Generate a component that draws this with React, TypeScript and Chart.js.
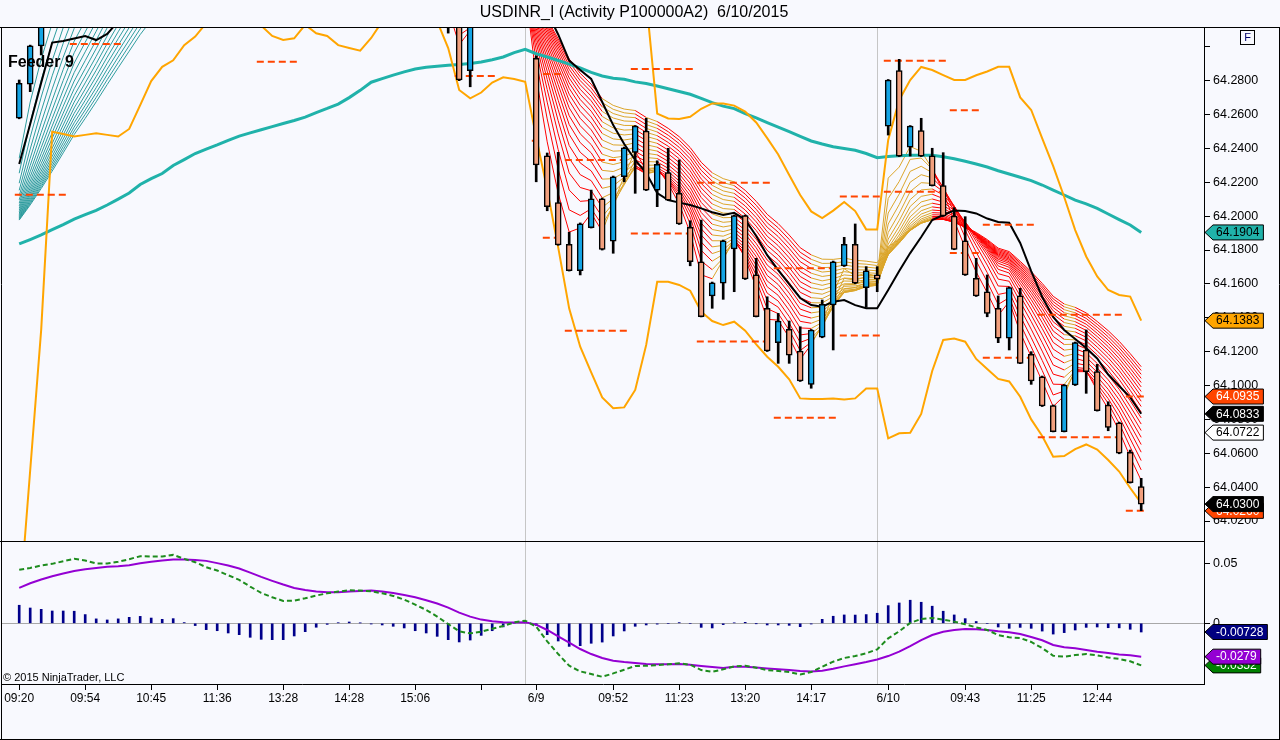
import React, { useEffect, useRef } from 'react';
import { Chart, registerables } from 'chart.js';

Chart.register(...registerables);

const FONT = "'Liberation Sans', Arial, sans-serif";
const BG = '#F8F9FE';

const TITLE = 'USDINR_I (Activity P100000A2)  6/10/2015';
const PANEL_NOTE = 'Feeder 9';
const COPYRIGHT = '\u00A9 2015 NinjaTrader, LLC';

// ---- bars (index 0..102) ----
const OPEN = [
  64.2578, 64.2780, 64.3006, 64.3180, 64.3350, 64.3500, 64.3620, 64.3580, 64.3700, 64.3850,
  64.3920, 64.4000, 64.4100, 64.4050, 64.4150, 64.4200, 64.4000, 64.3900, 64.3750, 64.3700,
  64.3600, 64.3520, 64.3450, 64.3400, 64.3450, 64.3500, 64.3600, 64.3650, 64.3700, 64.3720,
  64.3680, 64.3700, 64.3650, 64.3550, 64.3500, 64.3420, 64.3350, 64.3300, 64.3250, 64.3220,
  64.3180, 64.2859, 64.3180, 64.3300, 64.3350, 64.3380, 64.3360, 64.2932, 64.2357, 64.2080,
  64.1834, 64.1678, 64.1932, 64.2103, 64.1853, 64.2233, 64.2377, 64.2503, 64.2154, 64.2257,
  64.2135, 64.1934, 64.1731, 64.1529, 64.1604, 64.1806, 64.2003, 64.1653, 64.1456, 64.1253,
  64.1332, 64.1204, 64.1007, 64.1285, 64.1476, 64.1706, 64.1834, 64.1578, 64.1653, 64.2532,
  64.2859, 64.2407, 64.2505, 64.2357, 64.2180, 64.2001, 64.1855, 64.1633, 64.1554, 64.1456,
  64.1279, 64.1529, 64.1184, 64.1052, 64.0881, 64.0727, 64.1003, 64.1210, 64.1082, 64.0885,
  64.0780, 64.0606, 64.0403,
];
const HIGH = [
  64.2804, 64.3010, 64.3220, 64.3390, 64.3540, 64.3660, 64.3660, 64.3740, 64.3890, 64.3960,
  64.4040, 64.4140, 64.4140, 64.4190, 64.4240, 64.4240, 64.4040, 64.3940, 64.3790, 64.3740,
  64.3640, 64.3560, 64.3490, 64.3490, 64.3540, 64.3640, 64.3690, 64.3740, 64.3760, 64.3760,
  64.3740, 64.3740, 64.3690, 64.3590, 64.3540, 64.3460, 64.3390, 64.3340, 64.3290, 64.3260,
  64.3230, 64.3220, 64.3340, 64.3390, 64.3420, 64.3420, 64.3400, 64.2946, 64.2373, 64.2377,
  64.1905, 64.1960, 64.2154, 64.2107, 64.2237, 64.2408, 64.2535, 64.2578, 64.2327, 64.2401,
  64.2332, 64.1973, 64.1977, 64.1611, 64.1859, 64.2007, 64.2007, 64.1751, 64.1524, 64.1426,
  64.1381, 64.1347, 64.1331, 64.1505, 64.1735, 64.1875, 64.1954, 64.1702, 64.1702, 64.2807,
  64.2926, 64.2535, 64.2578, 64.2401, 64.2375, 64.2050, 64.1997, 64.1751, 64.1653, 64.1529,
  64.1582, 64.1574, 64.1200, 64.1056, 64.0885, 64.1006, 64.1257, 64.1328, 64.1125, 64.0904,
  64.0784, 64.0619, 64.0452,
];
const LOW = [
  64.2575, 64.2735, 64.2952, 64.3150, 64.3320, 64.3470, 64.3550, 64.3550, 64.3670, 64.3820,
  64.3890, 64.3970, 64.4020, 64.4020, 64.4120, 64.3970, 64.3870, 64.3720, 64.3670, 64.3570,
  64.3490, 64.3420, 64.3370, 64.3370, 64.3420, 64.3470, 64.3570, 64.3620, 64.3670, 64.3650,
  64.3650, 64.3620, 64.3520, 64.3470, 64.3390, 64.3320, 64.3270, 64.3220, 64.3190, 64.3081,
  64.2800, 64.2764, 64.3150, 64.3270, 64.3320, 64.3330, 64.3310, 64.2203, 64.2032, 64.1828,
  64.1676, 64.1653, 64.1930, 64.1800, 64.1781, 64.2203, 64.2135, 64.2151, 64.2056, 64.2092,
  64.1951, 64.1707, 64.1405, 64.1456, 64.1509, 64.1554, 64.1626, 64.1405, 64.1201, 64.1131,
  64.1131, 64.1024, 64.0984, 64.1282, 64.1210, 64.1703, 64.1601, 64.1462, 64.1554, 64.2479,
  64.2352, 64.2355, 64.2352, 64.2178, 64.1998, 64.1802, 64.1650, 64.1526, 64.1406, 64.1253,
  64.1210, 64.1129, 64.1007, 64.0876, 64.0726, 64.0726, 64.1000, 64.0954, 64.0849, 64.0733,
  64.0597, 64.0424, 64.0261,
];
const CLOSE = [
  64.2784, 64.3006, 64.3180, 64.3350, 64.3500, 64.3620, 64.3580, 64.3700, 64.3850, 64.3920,
  64.4000, 64.4100, 64.4050, 64.4150, 64.4200, 64.4000, 64.3900, 64.3750, 64.3700, 64.3600,
  64.3520, 64.3450, 64.3400, 64.3450, 64.3500, 64.3600, 64.3650, 64.3700, 64.3720, 64.3680,
  64.3700, 64.3650, 64.3550, 64.3500, 64.3420, 64.3350, 64.3300, 64.3250, 64.3220, 64.3180,
  64.2804, 64.3180, 64.3300, 64.3350, 64.3380, 64.3360, 64.3340, 64.2302, 64.2056, 64.1830,
  64.1678, 64.1955, 64.2103, 64.1804, 64.2233, 64.2404, 64.2532, 64.2154, 64.2306, 64.2095,
  64.1954, 64.1731, 64.1406, 64.1607, 64.1855, 64.2003, 64.1629, 64.1406, 64.1204, 64.1381,
  64.1180, 64.1027, 64.1328, 64.1480, 64.1731, 64.1834, 64.1604, 64.1678, 64.1629, 64.2804,
  64.2355, 64.2532, 64.2355, 64.2180, 64.2001, 64.1804, 64.1653, 64.1529, 64.1426, 64.1279,
  64.1578, 64.1131, 64.1027, 64.0879, 64.0727, 64.1003, 64.1253, 64.1082, 64.0851, 64.0753,
  64.0600, 64.0426, 64.0300,
];

// ---- price-panel indicators ----
const TEAL_MA = [
  64.1836, 64.1862, 64.1889, 64.1920, 64.1950, 64.1983, 64.2009, 64.2034, 64.2066, 64.2101,
  64.2137, 64.2187, 64.2222, 64.2252, 64.2299, 64.2334, 64.2370, 64.2396, 64.2421, 64.2448,
  64.2473, 64.2492, 64.2510, 64.2529, 64.2547, 64.2565, 64.2585, 64.2612, 64.2636, 64.2662,
  64.2700, 64.2743, 64.2791, 64.2812, 64.2833, 64.2852, 64.2869, 64.2879, 64.2885, 64.2891,
  64.2895, 64.2901, 64.2910, 64.2924, 64.2940, 64.2966, 64.2985, 64.2959, 64.2940, 64.2919,
  64.2898, 64.2875, 64.2849, 64.2828, 64.2814, 64.2808, 64.2793, 64.2783, 64.2769, 64.2752,
  64.2736, 64.2720, 64.2695, 64.2670, 64.2650, 64.2635, 64.2606, 64.2581, 64.2553, 64.2526,
  64.2499, 64.2471, 64.2444, 64.2426, 64.2410, 64.2399, 64.2389, 64.2370, 64.2345, 64.2353,
  64.2357, 64.2359, 64.2360, 64.2360, 64.2351, 64.2339, 64.2324, 64.2308, 64.2290, 64.2268,
  64.2249, 64.2230, 64.2210, 64.2184, 64.2154, 64.2125, 64.2095, 64.2073, 64.2046, 64.2013,
  64.1980, 64.1948, 64.1904,
];
const UPPER_BAND = [
  64.330, 64.340, 64.355, 64.370, 64.385, 64.400, 64.410, 64.420, 64.430, 64.440,
  64.450, 64.455, 64.460, 64.465, 64.470, 64.470, 64.468, 64.460, 64.450, 64.440,
  64.430, 64.420, 64.410, 64.400, 64.395, 64.395, 64.400, 64.405, 64.410, 64.410,
  64.410, 64.408, 64.405, 64.400, 64.395, 64.390, 64.385, 64.380, 64.375, 64.370,
  64.370, 64.372, 64.372, 64.370, 64.368, 64.366, 64.366, 64.370, 64.375, 64.380,
  64.385, 64.385, 64.380, 64.375, 64.365, 64.355, 64.345, 64.328, 64.2606, 64.2577,
  64.2574, 64.2587, 64.2634, 64.2666, 64.2665, 64.2653, 64.2617, 64.2553, 64.2461, 64.2364,
  64.2243, 64.2125, 64.2028, 64.1989, 64.2033, 64.2084, 64.2030, 64.1922, 64.1922, 64.2450,
  64.2686, 64.2804, 64.2881, 64.2863, 64.2833, 64.2804, 64.2804, 64.2832, 64.2854, 64.2882,
  64.2882, 64.2701, 64.2627, 64.2459, 64.2296, 64.2113, 64.1918, 64.1762, 64.1644, 64.1564,
  64.1535, 64.1525, 64.1383,
];
const LOWER_BAND = [
  63.967, 64.050, 64.133, 64.2499, 64.2485, 64.2470, 64.2480, 64.2490, 64.2480, 64.2470,
  64.2515, 64.2656, 64.2798, 64.2882, 64.2920, 64.3010, 64.3060, 64.3140, 64.3180, 64.3200,
  64.3180, 64.3150, 64.3125, 64.3064, 64.3040, 64.3050, 64.3130, 64.3080, 64.3064, 64.3010,
  64.2993, 64.2977, 64.3052, 64.3150, 64.3200, 64.3220, 64.3220, 64.3200, 64.3150, 64.2993,
  64.2745, 64.2696, 64.2730, 64.2789, 64.2820, 64.2810, 64.2794, 64.2467, 64.2157, 64.1816,
  64.1454, 64.1229, 64.1078, 64.0930, 64.0866, 64.0871, 64.0974, 64.1240, 64.1613, 64.1613,
  64.1594, 64.1560, 64.1436, 64.1381, 64.1357, 64.1377, 64.1324, 64.1243, 64.1170, 64.1111,
  64.1037, 64.0924, 64.0920, 64.0920, 64.0924, 64.0918, 64.0924, 64.0983, 64.0983, 64.0688,
  64.0718, 64.0721, 64.0832, 64.1086, 64.1269, 64.1278, 64.1259, 64.1157, 64.1098, 64.1039,
  64.1024, 64.0934, 64.0800, 64.0702, 64.0580, 64.0584, 64.0625, 64.0652, 64.0622, 64.0560,
  64.0492, 64.0395, 64.0306,
];
const BLACK_MA = [
  64.2308, 64.2544, 64.2788, 64.3025, 64.3034, 64.3049, 64.3064, 64.3040, 64.3076, 64.3150,
  64.318, 64.330, 64.340, 64.350, 64.360, 64.370, 64.375, 64.375, 64.372, 64.368,
  64.362, 64.356, 64.350, 64.346, 64.345, 64.347, 64.351, 64.356, 64.361, 64.365,
  64.367, 64.367, 64.365, 64.361, 64.356, 64.350, 64.344, 64.338, 64.333, 64.329,
  64.325, 64.322, 64.321, 64.322, 64.326, 64.330, 64.332, 64.328, 64.3205, 64.3073,
  64.2919, 64.2863, 64.2810, 64.2674, 64.2538, 64.2426, 64.2332, 64.2255, 64.2137, 64.2095,
  64.2080, 64.2066, 64.2046, 64.2023, 64.2007, 64.2020, 64.1980, 64.1883, 64.1770, 64.1682,
  64.1599, 64.1517, 64.1475, 64.1465, 64.1495, 64.1505, 64.1475, 64.1456, 64.1456, 64.1564,
  64.1676, 64.1782, 64.1877, 64.1977, 64.2007, 64.2033, 64.2030, 64.2016, 64.1986, 64.1966,
  64.1961, 64.1842, 64.1676, 64.1523, 64.1405, 64.1328, 64.1275, 64.1222, 64.1160, 64.1065,
  64.0997, 64.0930, 64.0833,
];

// ribbon: EMAs of the closes
const RIBBON_PERIODS = [3, 4, 5, 6, 7, 8, 9, 10, 11, 12, 13, 14, 15, 16, 17, 18, 19, 20, 21, 22];
const RIBBON_SEED = 64.19;
const RIBBON_TREND_PERIOD = 8;

// period high / low levels (dashed)
const LEVEL_START = [0, 5, 22, 40, 47, 48, 50, 56, 62, 69, 75, 79, 85, 88, 93, 101];
const LEVEL_END = [4, 9, 25, 43, 47, 49, 55, 61, 68, 74, 78, 84, 87, 92, 100, 102];
const LEVEL_HIGH = [null, null, null, null, null, 64.284, 64.2332, 64.2869, 64.2198, 64.1693, 64.2116, 64.2918, 64.2626, 64.195, 64.1418, 64.0935];
const LEVEL_LOW = [64.2127, 64.3017, 64.2912, 64.2828, 64.2445, 64.1873, 64.1324, 64.1897, 64.126, 64.081, 64.1295, 64.2144, 64.1783, 64.1164, 64.0694, 64.026];
const FEEDER_MARK = 64.0722;

// ---- MACD panel ----
const MACD = [
  0.0447, 0.0463, 0.0483, 0.0497, 0.0519, 0.0539, 0.0525, 0.0500, 0.0500, 0.0514,
  0.0536, 0.0561, 0.0558, 0.0558, 0.0572, 0.0539, 0.0511, 0.0469, 0.0441, 0.0402,
  0.0363, 0.0307, 0.0254, 0.0218, 0.0187, 0.0190, 0.0209, 0.0232, 0.0251, 0.0265,
  0.0276, 0.0274, 0.0268, 0.0251, 0.0229, 0.0198, 0.0156, 0.0112, 0.0056, -0.0006,
  -0.0067, -0.0084, -0.0070, -0.0045, -0.0022, 0.0008, 0.0022, -0.0028, -0.0151, -0.0257,
  -0.0355, -0.0402, -0.0424, -0.0447, -0.0419, -0.0388, -0.0357, -0.0355, -0.0349, -0.0343,
  -0.0335, -0.0346, -0.0391, -0.0405, -0.0385, -0.0360, -0.0355, -0.0371, -0.0391, -0.0399,
  -0.0408, -0.0427, -0.0408, -0.0363, -0.0321, -0.0290, -0.0274, -0.0251, -0.0218, -0.0126,
  -0.0067, 0.0003, 0.0036, 0.0045, 0.0031, 0.0014, -0.0008, -0.0034, -0.0056, -0.0098,
  -0.0117, -0.0123, -0.0156, -0.0207, -0.0271, -0.0279, -0.0265, -0.0257, -0.0268, -0.0285,
  -0.0298, -0.0318, -0.03518,
];
const MACD_AVG = [
  0.0296, 0.0335, 0.0366, 0.0394, 0.0416, 0.0438, 0.0452, 0.0463, 0.0472, 0.0477,
  0.0486, 0.0503, 0.0514, 0.0525, 0.0533, 0.0533, 0.0530, 0.0522, 0.0503, 0.0483,
  0.0458, 0.0424, 0.0388, 0.0355, 0.0324, 0.0296, 0.0279, 0.0265, 0.0260, 0.0260,
  0.0265, 0.0271, 0.0274, 0.0265, 0.0254, 0.0237, 0.0218, 0.0193, 0.0165, 0.0131,
  0.0089, 0.0056, 0.0031, 0.0017, 0.0008, 0.0006, 0.0008, -0.0011, -0.0056, -0.0109,
  -0.0162, -0.0215, -0.0257, -0.0290, -0.0313, -0.0324, -0.0332, -0.0341, -0.0342, -0.0343,
  -0.0341, -0.0346, -0.0357, -0.0366, -0.0374, -0.0364, -0.0363, -0.0369, -0.0377, -0.0385,
  -0.0391, -0.0399, -0.0402, -0.0396, -0.0380, -0.0360, -0.0343, -0.0324, -0.0302, -0.0274,
  -0.0237, -0.0190, -0.0140, -0.0098, -0.0070, -0.0056, -0.0047, -0.0049, -0.0056, -0.0067,
  -0.0075, -0.0089, -0.0114, -0.0142, -0.0181, -0.0201, -0.0209, -0.0223, -0.0237, -0.0248,
  -0.0260, -0.0268, -0.0279,
];

// ---- axes ----
const X_TICK_BARS = [0, 6, 12, 18, 24, 30, 36, 42, 47, 54, 60, 66, 72, 79, 86, 92, 98];
const X_TICK_LABELS = ['09:20', '09:54', '10:45', '11:36', '13:28', '14:28', '15:06', '', '6/9', '09:52', '11:23', '13:20', '14:17', '6/10', '09:43', '11:25', '12:44'];
const SESSION_BREAKS = [46, 78];
const PRICE_TICKS = [64.02, 64.04, 64.06, 64.08, 64.10, 64.12, 64.14, 64.16, 64.18, 64.20, 64.22, 64.24, 64.26, 64.28, 64.30];
const PRICE_TICK_LABELS = ['64.0200', '64.0400', '64.0600', '64.0800', '64.1000', '64.1200', '64.1400', '64.1600', '64.1800', '64.2000', '64.2200', '64.2400', '64.2600', '64.2800', ''];
const MACD_TICKS = [0, 0.05];
const MACD_TICK_LABELS = ['0', '0.05'];

const X_MIN = -1.5636;
const X_MAX = 107.709;
const Y_MIN = 64.0082;
const Y_MAX = 64.3117;
const Y2_MIN = -0.05075;
const Y2_MAX = 0.06798;

const COL_UP = '#14A4E4';
const COL_DOWN = '#F2A07E';
const COL_RED = '#FF0000';
const COL_GOLD = '#DBA52A';
const COL_TEALR = '#2E9C9E';

function emaSeries(values: number[], period: number, seed: number): number[] {
  const k = 2 / (period + 1);
  let e = seed;
  return values.map((v) => {
    e = e + k * (v - e);
    return e;
  });
}

function drawFlag(ctx: CanvasRenderingContext2D, y: number, text: string, bg: string, fg: string) {
  ctx.save();
  ctx.font = `12px ${FONT}`;
  const tw = ctx.measureText(text).width;
  const tip = 1205;
  const body = 1213;
  const h = 7.5;
  const right = body + tw + 7;
  ctx.beginPath();
  ctx.moveTo(tip, y);
  ctx.lineTo(body, y - h);
  ctx.lineTo(right, y - h);
  ctx.lineTo(right, y + h);
  ctx.lineTo(body, y + h);
  ctx.closePath();
  ctx.fillStyle = bg;
  ctx.fill();
  ctx.strokeStyle = '#000';
  ctx.lineWidth = 1;
  ctx.stroke();
  ctx.fillStyle = fg;
  ctx.textAlign = 'left';
  ctx.textBaseline = 'middle';
  ctx.fillText(text, body + 3, y + 0.5);
  ctx.restore();
}

function sessionLines(chart: any) {
  const { ctx, chartArea: a, scales } = chart;
  ctx.save();
  ctx.strokeStyle = '#C6C6C6';
  ctx.lineWidth = 1;
  SESSION_BREAKS.forEach((b) => {
    const px = Math.round(scales.x.getPixelForValue(b)) + 0.5;
    ctx.beginPath();
    ctx.moveTo(px, a.top);
    ctx.lineTo(px, a.bottom);
    ctx.stroke();
  });
  ctx.restore();
}

function fixYAxis(s: any) {
  s.width = 76;
  s.paddingTop = 0;
  s.paddingBottom = 0;
}

export default function App() {
  const topRef = useRef<HTMLCanvasElement>(null);
  const botRef = useRef<HTMLCanvasElement>(null);

  useEffect(() => {
    Chart.defaults.font.family = FONT;
    Chart.defaults.font.size = 12;
    Chart.defaults.color = '#000';

    const idx = CLOSE.map((_, i) => i);
    const pts = (arr: number[]) => arr.map((v, i) => ({ x: i, y: v }));

    const trend = emaSeries(CLOSE, RIBBON_TREND_PERIOD, RIBBON_SEED);
    const ribbonColor = trend.map((m, i) => {
      const prev = i === 0 ? RIBBON_SEED : trend[i - 1];
      if (m >= prev) return m > TEAL_MA[i] ? COL_TEALR : COL_GOLD;
      return COL_RED;
    });

    const ribbonSets = RIBBON_PERIODS.map((p) => ({
      type: 'line' as const,
      data: pts(emaSeries(CLOSE, p, RIBBON_SEED)),
      borderColor: COL_RED,
      borderWidth: 1,
      pointRadius: 0,
      tension: 0,
      fill: false,
      order: 9,
      segment: { borderColor: (c: any) => ribbonColor[c.p1DataIndex] },
    }));

    const levelPts = (vals: (number | null)[]) => {
      const out: { x: number; y: number | null }[] = [];
      vals.forEach((v, g) => {
        if (v === null) return;
        out.push({ x: LEVEL_START[g] - 0.4, y: v });
        out.push({ x: LEVEL_END[g] + 0.4, y: v });
        out.push({ x: LEVEL_END[g] + 0.45, y: null });
      });
      return out;
    };

    const lineSet = (data: any, color: string, width: number, order: number, extra: any = {}) => ({
      type: 'line' as const,
      data,
      borderColor: color,
      borderWidth: width,
      pointRadius: 0,
      tension: 0,
      fill: false,
      spanGaps: false,
      order,
      ...extra,
    });

    const topDecor = {
      id: 'topDecor',
      beforeDatasetsDraw(chart: any) {
        sessionLines(chart);
      },
      afterDraw(chart: any) {
        const { ctx, scales } = chart;
        ctx.save();
        ctx.strokeStyle = '#000';
        ctx.lineWidth = 1;
        ctx.beginPath();
        ctx.moveTo(0, 27.5); ctx.lineTo(1280, 27.5);
        ctx.moveTo(1.5, 27); ctx.lineTo(1.5, 542);
        ctx.moveTo(1279.5, 27); ctx.lineTo(1279.5, 542);
        ctx.moveTo(0, 541.5); ctx.lineTo(1204, 541.5);
        ctx.stroke();
        ctx.fillStyle = '#000';
        ctx.font = `16px ${FONT}`;
        ctx.textAlign = 'center';
        ctx.textBaseline = 'middle';
        ctx.fillText(TITLE, 634, 13);
        ctx.font = `bold 16px ${FONT}`;
        ctx.textAlign = 'left';
        ctx.textBaseline = 'alphabetic';
        ctx.fillText(PANEL_NOTE, 8, 67);
        ctx.strokeRect(1240.5, 30.5, 14, 14);
        ctx.fillStyle = '#00006A';
        ctx.font = `11px ${FONT}`;
        ctx.textAlign = 'center';
        ctx.textBaseline = 'middle';
        ctx.fillText('F', 1247.5, 38);
        ctx.restore();
        const y = scales.y;
        const last = CLOSE.length - 1;
        const flags: [number, string, string][] = [
          [TEAL_MA[last], '#20B2AA', '#000'],
          [UPPER_BAND[last], '#FFA500', '#000'],
          [LEVEL_HIGH[LEVEL_HIGH.length - 1] as number, '#FF4500', '#fff'],
          [BLACK_MA[last], '#000', '#fff'],
          [FEEDER_MARK, '#fff', '#000'],
          [LEVEL_LOW[LEVEL_LOW.length - 1], '#FF4500', '#fff'],
          [CLOSE[last], '#000', '#fff'],
        ];
        flags.forEach(([v, bg, fg]) => drawFlag(ctx, y.getPixelForValue(v), v.toFixed(4), bg, fg));
      },
    };

    const top = new Chart(topRef.current as HTMLCanvasElement, {
      type: 'bar',
      data: {
        datasets: [
          ...ribbonSets,
          lineSet(pts(TEAL_MA), '#20B2AA', 3, 6),
          lineSet(pts(UPPER_BAND), '#FFA500', 2, 5),
          lineSet(pts(LOWER_BAND), '#FFA500', 2, 5),
          lineSet(pts(BLACK_MA), '#000', 2, 4),
          lineSet(levelPts(LEVEL_HIGH), '#FF4500', 2, 3, { borderDash: [7, 4] }),
          lineSet(levelPts(LEVEL_LOW), '#FF4500', 2, 3, { borderDash: [7, 4] }),
          {
            type: 'bar' as const,
            data: idx.map((i) => ({ x: i, y: [LOW[i], HIGH[i]] })),
            backgroundColor: '#000',
            borderWidth: 0,
            barThickness: 2,
            grouped: false,
            order: 2,
          },
          {
            type: 'bar' as const,
            data: idx.map((i) => ({ x: i, y: [OPEN[i], CLOSE[i]] })),
            backgroundColor: idx.map((i) => (CLOSE[i] >= OPEN[i] ? COL_UP : COL_DOWN)),
            borderColor: '#000',
            borderWidth: 1.5,
            borderSkipped: false,
            barThickness: 6,
            grouped: false,
            order: 1,
          },
        ] as any,
      },
      options: {
        responsive: false,
        animation: false,
        events: [],
        layout: { padding: { left: 2, right: 0, top: 27, bottom: 1 } },
        plugins: { legend: { display: false }, tooltip: { enabled: false }, title: { display: false } },
        scales: {
          x: { type: 'linear', min: X_MIN, max: X_MAX, display: false, offset: false, grid: { offset: false } },
          y: {
            type: 'linear',
            position: 'right',
            min: Y_MIN,
            max: Y_MAX,
            afterFit: fixYAxis,
            afterBuildTicks: (s: any) => { s.ticks = PRICE_TICKS.map((v) => ({ value: v })); },
            ticks: {
              autoSkip: false,
              padding: 3,
              color: '#000',
              font: { family: FONT, size: 12.5 },
              callback: (_v: any, i: number) => PRICE_TICK_LABELS[i],
            },
            grid: { drawOnChartArea: false, drawTicks: true, tickLength: 6, color: '#000' },
            border: { display: true, color: '#000', width: 1 },
          },
        },
      } as any,
      plugins: [topDecor],
    });

    const botDecor = {
      id: 'botDecor',
      beforeDatasetsDraw(chart: any) {
        const { ctx, chartArea: a, scales } = chart;
        sessionLines(chart);
        const zy = Math.round(scales.y.getPixelForValue(0)) + 0.5;
        ctx.save();
        ctx.strokeStyle = '#A8A8A8';
        ctx.lineWidth = 1;
        ctx.beginPath();
        ctx.moveTo(a.left, zy);
        ctx.lineTo(a.right, zy);
        ctx.stroke();
        ctx.restore();
      },
      afterDraw(chart: any) {
        const { ctx, scales } = chart;
        ctx.save();
        ctx.strokeStyle = '#000';
        ctx.lineWidth = 1;
        ctx.beginPath();
        ctx.moveTo(1.5, 0); ctx.lineTo(1.5, 198);
        ctx.moveTo(1279.5, 0); ctx.lineTo(1279.5, 198);
        ctx.moveTo(0, 197.5); ctx.lineTo(1280, 197.5);
        ctx.stroke();
        ctx.fillStyle = '#000';
        ctx.font = `11px ${FONT}`;
        ctx.textAlign = 'left';
        ctx.textBaseline = 'middle';
        ctx.fillText(COPYRIGHT, 3, 136);
        ctx.restore();
        const y = scales.y;
        const last = MACD.length - 1;
        const diffLast = MACD[last] - MACD_AVG[last];
        drawFlag(ctx, y.getPixelForValue(diffLast), diffLast.toPrecision(3), '#000080', '#fff');
        drawFlag(ctx, y.getPixelForValue(MACD[last]), MACD[last].toPrecision(3), '#008000', '#fff');
        drawFlag(ctx, y.getPixelForValue(MACD_AVG[last]), MACD_AVG[last].toPrecision(3), '#9400D3', '#fff');
      },
    };

    const bot = new Chart(botRef.current as HTMLCanvasElement, {
      type: 'bar',
      data: {
        datasets: [
          {
            type: 'bar' as const,
            data: idx.map((i) => ({ x: i, y: MACD[i] - MACD_AVG[i] })),
            backgroundColor: '#00008B',
            borderWidth: 0,
            barThickness: 2,
            grouped: false,
            order: 3,
          },
          lineSet(pts(MACD_AVG), '#9400D3', 2, 2),
          lineSet(pts(MACD), '#1E8C1E', 2, 1, { borderDash: [5, 3] }),
        ] as any,
      },
      options: {
        responsive: false,
        animation: false,
        events: [],
        layout: { padding: { left: 2, right: 0, top: 0, bottom: 0 } },
        plugins: { legend: { display: false }, tooltip: { enabled: false }, title: { display: false } },
        scales: {
          x: {
            type: 'linear',
            position: 'bottom',
            min: X_MIN,
            max: X_MAX,
            offset: false,
            afterFit: (s: any) => { s.height = 56; s.paddingLeft = 0; s.paddingRight = 0; },
            afterBuildTicks: (s: any) => { s.ticks = X_TICK_BARS.map((v) => ({ value: v })); },
            ticks: {
              autoSkip: false,
              maxRotation: 0,
              minRotation: 0,
              padding: 1,
              color: '#000',
              font: { family: FONT, size: 12 },
              callback: (_v: any, i: number) => X_TICK_LABELS[i],
            },
            grid: { drawOnChartArea: false, drawTicks: true, tickLength: 6, color: '#000', offset: false },
            border: { display: true, color: '#000', width: 1 },
          },
          y: {
            type: 'linear',
            position: 'right',
            min: Y2_MIN,
            max: Y2_MAX,
            afterFit: fixYAxis,
            afterBuildTicks: (s: any) => { s.ticks = MACD_TICKS.map((v) => ({ value: v })); },
            ticks: {
              autoSkip: false,
              padding: 3,
              color: '#000',
              font: { family: FONT, size: 12.5 },
              callback: (_v: any, i: number) => MACD_TICK_LABELS[i],
            },
            grid: { drawOnChartArea: false, drawTicks: true, tickLength: 6, color: '#000' },
            border: { display: true, color: '#000', width: 1 },
          },
        },
      } as any,
      plugins: [botDecor],
    });

    return () => {
      top.destroy();
      bot.destroy();
    };
  }, []);

  return (
    <div style={{ position: 'absolute', left: 0, top: 0, width: 1280, height: 740, background: BG, overflow: 'hidden' }}>
      <canvas ref={topRef} width={1280} height={542} style={{ position: 'absolute', left: 0, top: 0, width: 1280, height: 542 }} />
      <canvas ref={botRef} width={1280} height={198} style={{ position: 'absolute', left: 0, top: 542, width: 1280, height: 198 }} />
    </div>
  );
}
